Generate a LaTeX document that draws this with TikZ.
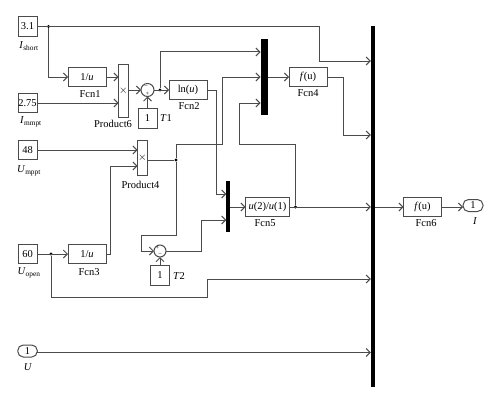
\documentclass[tikz,border=0pt]{standalone}
\usepackage{fontspec}
\setmainfont{Liberation Serif}
\usetikzlibrary{arrows.meta}
\definecolor{wirecol}{RGB}{75, 75, 75}
\tikzset{
  blockbox/.style={draw=wirecol, line width=1pt, fill=white, inner sep=0pt, outer sep=0pt, minimum width=38pt, minimum height=19.5pt},
  constbox/.style={blockbox, minimum width=19pt},
  portbox/.style={blockbox, rounded corners=5.5pt, minimum width=19.5pt, minimum height=12pt},
  prodbox/.style={blockbox, minimum width=10pt},
  sumcirc/.style={circle, draw=wirecol, line width=1pt, inner sep=0pt, outer sep=0pt, minimum size=13pt},
  busbar/.style={fill=black, inner sep=0pt, outer sep=0pt},
  joint/.style={circle, fill=black, inner sep=0pt, minimum size=3.2pt},
  caption/.style={inner sep=0pt},
  signtext/.style={inner sep=0pt, font=\fontsize{6}{6}\selectfont},
  wire/.style={draw=wirecol, line width=1pt},
  sig/.style={wire, -{Straight Barb[length=4pt,width=8pt,line width=0.9pt]}}
}
\begin{document}
\begin{tikzpicture}[x=1pt, y=-1pt, font=\fontsize{10.5}{12}\selectfont]
    \useasboundingbox (0,0) rectangle (500,404);

    %% sources
    \node[constbox] (short) at (27.5,26.5) {3.1};
    \node[caption] (shortlab) at (29,46) {\textit{I}\textsubscript{short}};
    \node[constbox] (mmpt) at (27.5,103) {2.75};
    \node[caption] (mmptlab) at (31,122) {\textit{I}\textsubscript{mmpt}};
    \node[constbox] (mppt) at (27.5,150) {48};
    \node[caption] (mpptlab) at (29,171) {\textit{U}\textsubscript{mppt}};
    \node[constbox] (open) at (27.5,254) {60};
    \node[caption] (openlab) at (29,273) {\textit{U}\textsubscript{open}};
    \node[portbox] (uin) at (27.5,351) {1};
    \node[caption] (uinlab) at (28,367) {\textit{U}};

    %% function blocks
    \node[blockbox] (fcnone) at (87,77) {1/\textit{u}};
    \node[caption] (fcnonelab) at (90,94) {Fcn1};
    \node[blockbox] (fcnthree) at (87,254) {1/\textit{u}};
    \node[caption] (fcnthreelab) at (89,272.5) {Fcn3};
    \node[blockbox] (fcntwo) at (188,90) {ln(\textit{u})};
    \node[caption] (fcntwolab) at (189,106) {Fcn2};
    \node[blockbox] (fcnfour) at (308,77) {\textit{f}(u)};
    \node[caption] (fcnfourlab) at (308,93) {Fcn4};
    \node[blockbox, minimum width=44pt] (fcnfive) at (267.5,207) {\textit{u}(2)/\textit{u}(1)};
    \node[caption] (fcnfivelab) at (265,223.5) {Fcn5};
    \node[blockbox] (fcnsix) at (422.5,207) {\textit{f}(u)};
    \node[caption] (fcnsixlab) at (426,223.5) {Fcn6};
    \node[portbox, minimum width=20pt] (iout) at (473,205.5) {1};
    \node[caption] (ioutlab) at (475,221) {\textit{I}};

    %% products and sums
    \node[prodbox, minimum height=53pt] (prodsix) at (123.5,90.5) {$\times$};
    \node[caption] (prodsixlab) at (113,123.5) {Product6};
    \node[prodbox, minimum height=35pt] (prodfour) at (142.5,158) {$\times$};
    \node[caption] (prodfourlab) at (140.5,184.5) {Product4};
    \node[sumcirc] (sumone) at (147.5,90) {};
    \node[signtext] (sumoneplus) at (147.5,93.5) {+};
    \node[signtext] (sumoneminus) at (146,86.5) {–};
    \node[constbox] (tone) at (147.5,118.5) {1};
    \node[caption] (tonelab) at (166,118) {\textit{T}1};
    \node[sumcirc, minimum size=12pt] (sumtwo) at (160,251) {};
    \node[signtext] (sumtwoplus) at (157.5,248) {+};
    \node[signtext] (sumtwominus) at (160,255) {–};
    \node[constbox] (ttwo) at (160,275.5) {1};
    \node[caption] (ttwolab) at (179,276) {\textit{T}2};

    %% bars
    \node[busbar, minimum width=7pt, minimum height=75.5pt] (barone) at (264,77.25) {};
    \node[busbar, minimum width=3.5pt, minimum height=51pt] (bartwo) at (228,206.5) {};
    \node[busbar, minimum width=4.5pt, minimum height=361pt] (barmain) at (373,206.5) {};

    %% joints
    \node[joint] (jshort) at (48.5,26.5) {};
    \node[joint] (jsub) at (160,90) {};
    \node[joint] (jprod) at (176,160) {};
    \node[joint] (jopen) at (51,254) {};
    \node[joint] (jfive) at (295.5,207) {};

    %% wires, upper part
    \draw[sig] (short.east) -- (319,26.5) |- (barmain.west |- 0,61);
    \draw[sig] (jshort) |- (fcnone.west);
    \draw[sig] (fcnone.east) -- (prodsix.west |- fcnone);
    \draw[sig] (mmpt.east) -- (prodsix.west |- mmpt);
    \draw[sig] (prodsix.east |- sumone) -- (sumone.west);
    \draw[sig] (tone.north) -- (sumone.south);
    \draw[sig] (sumone.east) -- (fcntwo.west);
    \draw[sig] (jsub) |- (barone.west |- 0,52);
    \draw[sig] (fcntwo.east) -- (216,90) |- (bartwo.west |- 0,194);
    \draw[sig] (barone.east |- fcnfour) -- (fcnfour.west);
    \draw[sig] (fcnfour.east) -- (343.5,77) |- (barmain.west |- 0,135);

    %% wires, middle part
    \draw[sig] (mppt.east) -- (prodfour.west |- mppt);
    \draw[wire] (prodfour.east |- jprod) -- (jprod);
    \draw[sig] (jprod) |- (222.5,144) |- (barone.west |- 0,77);
    \draw[sig] (jprod) |- (141,235) |- (sumtwo.west);
    \draw[sig] (ttwo.north) -- (sumtwo.south);
    \draw[sig] (sumtwo.east) -- (201,251) |- (bartwo.west |- 0,220);
    \draw[sig] (bartwo.east |- fcnfive) -- (fcnfive.west);
    \draw[sig] (fcnfive.east) -- (barmain.west |- fcnfive);
    \draw[sig] (jfive) |- (239,144) |- (barone.west |- 0,103);
    \draw[sig] (barmain.east |- fcnsix) -- (fcnsix.west);
    \draw[sig] (fcnsix.east) -- (iout.west |- fcnsix);

    %% wires, lower part
    \draw[sig] (open.east) -- (fcnthree.west);
    \draw[sig] (fcnthree.east) -- (110.5,254) |- (prodfour.west |- 0,166);
    \draw[sig] (jopen) |- (207.5,297.5) |- (barmain.west |- 0,279);
    \draw[sig] (uin.east |- 0,352.5) -- (barmain.west |- 0,352.5);
\end{tikzpicture}
\end{document}
